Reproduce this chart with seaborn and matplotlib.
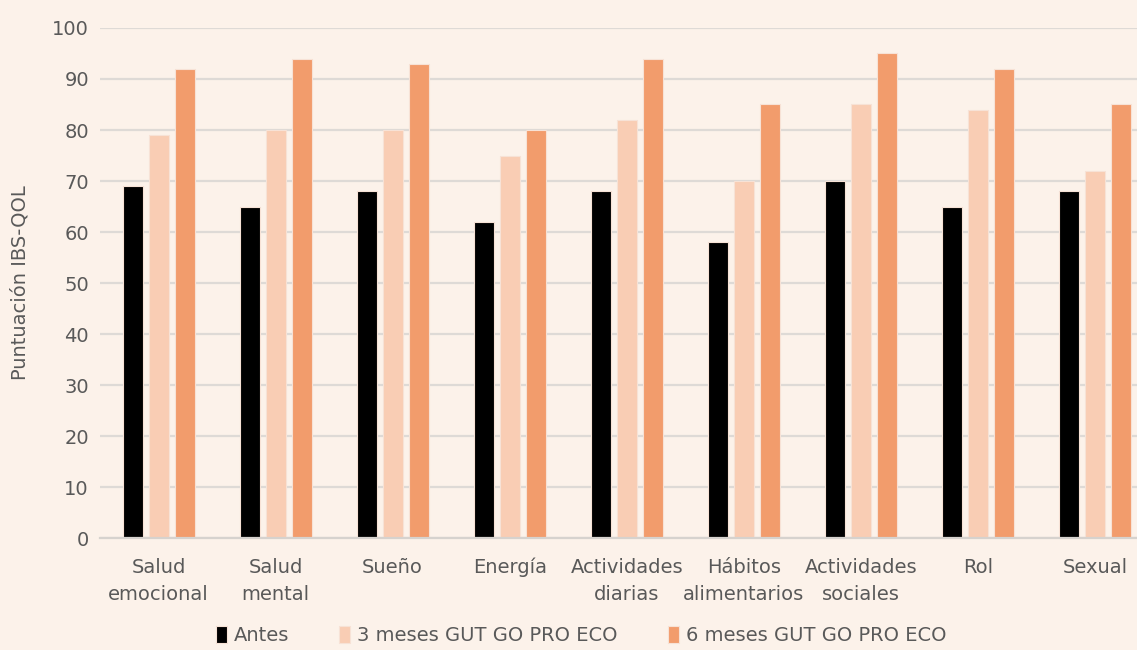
import warnings
warnings.filterwarnings('ignore')

import matplotlib.pyplot as plt
import pandas as pd
import seaborn as sns

# datos
categorias = ['Salud\nemocional', 'Salud\nmental', 'Sueño', 'Energía', 'Actividades\ndiarias',
              'Hábitos\nalimentarios', 'Actividades\nsociales', 'Rol', 'Sexual']
series = ['Antes', '3 meses GUT GO PRO ECO', '6 meses GUT GO PRO ECO']
antes = [69, 65, 68, 62, 68, 58, 70, 65, 68]
meses3 = [79, 80, 80, 75, 82, 70, 85, 84, 72]
meses6 = [92, 94, 93, 80, 94, 85, 95, 92, 85]
colores = ['#000000', '#F9CDB4', '#F29C6C']

fondo = '#FCF2EA'

df = pd.DataFrame({'categoria': categorias * 3,
                   'serie': [series[0]] * 9 + [series[1]] * 9 + [series[2]] * 9,
                   'valor': antes + meses3 + meses6})

sns.set_style('white')
plt.rcParams['font.family'] = ['DejaVu Sans']

fig = plt.figure(figsize=(11.37, 6.5), dpi=100, facecolor=fondo)
ax = fig.add_axes([0.088, 0.172, 0.912, 0.785])
ax.set_facecolor(fondo)

sns.barplot(data=df, x='categoria', y='valor', hue='serie', palette=colores, saturation=1,
            width=0.667, gap=0.23, edgecolor='#F7E2D6', linewidth=0.8, ax=ax)

ax.set_ylim(0, 100)
ax.set_xlim(-0.5, 8.36)
ax.set_yticks(range(0, 101, 10))
ax.yaxis.grid(True, color='#DEDAD6', linewidth=1.6)
ax.set_axisbelow(True)
for s in ['top', 'right', 'left']:
    ax.spines[s].set_visible(False)
ax.spines['bottom'].set_color('#D6D2CE')
ax.spines['bottom'].set_linewidth(1.6)
ax.tick_params(axis='both', length=0, labelsize=14, colors='#595959', pad=8)
ax.tick_params(axis='x', pad=14)
for t in ax.get_xticklabels():
    t.set_linespacing(1.55)
ax.set_xlabel('')
ax.set_ylabel('Puntuación IBS-QOL', fontsize=14, color='#595959', labelpad=16)

handles, labels = ax.get_legend_handles_labels()
ax.get_legend().remove()
fig.legend(handles, labels, loc='center', bbox_to_anchor=(0.511, 0.022), ncol=3, frameon=False,
           fontsize=14, labelcolor='#595959', handlelength=0.55, handleheight=0.9,
           handletextpad=0.35, columnspacing=2.6)

fig.savefig('out.png', dpi=100, facecolor=fondo)
